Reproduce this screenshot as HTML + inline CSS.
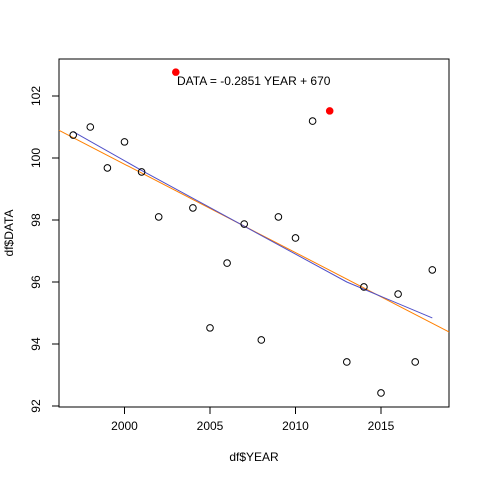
<!DOCTYPE html>
<html><head><meta charset="utf-8"><style>
body{margin:0;background:#fff;font-family:"Liberation Sans",sans-serif;}
svg text{font-family:"Liberation Sans",sans-serif;font-size:12px;fill:#000;}
</style></head><body>
<svg id="c" width="480" height="480"></svg>
<script>
const years=[1997,1998,1999,2000,2001,2002,2004,2005,2006,2007,2008,2009,2010,2011,2013,2014,2015,2016,2017,2018];
const values=[100.74,101.0,99.68,100.52,99.55,98.1,98.39,94.52,96.61,97.87,94.13,98.1,97.42,101.19,93.42,95.84,92.42,95.61,93.42,96.39];
const outlierYears=[2003,2012];
const outlierValues=[102.77,101.52];
const smoothYears=[1997,2001,2005,2009,2013,2018];
const smoothValues=[100.85,99.6,98.4,97.2,96.0,94.84];
const slope=-0.2851, intercept=670;
const xTicks=[2000,2005,2010,2015];
const yTicks=[92,94,96,98,100,102];
const NS="http://www.w3.org/2000/svg";
const svg=document.getElementById('c');
const L=59,R=449,T=59,B=407;
const X=v=>124.5+(v-2000)*17.1;
const Y=v=>406-(v-92)*31;
function mk(t,a){const e=document.createElementNS(NS,t);for(const k in a)e.setAttribute(k,a[k]);svg.appendChild(e);return e;}
let e;
e=mk('rect',{x:L,y:T,width:R-L,height:B-T,fill:'none',stroke:'#000'});


xTicks.forEach(t=>{
 e=mk('line',{x1:X(t),x2:X(t),y1:B,y2:B+7,stroke:'#000'});
 
 
 e=mk('text',{x:X(t),y:B+23,'text-anchor':'middle'});e.textContent=t;
 
 
});
yTicks.forEach(t=>{
 e=mk('line',{x1:L-7,x2:L,y1:Y(t),y2:Y(t),stroke:'#000'});
 
 
 e=mk('text',{x:L-19,y:Y(t),'text-anchor':'middle',transform:`rotate(-90 ${L-19} ${Y(t)})`});e.textContent=t;
 
 
});
e=mk('text',{x:254,y:461,'text-anchor':'middle'});e.textContent='df$YEAR';


e=mk('text',{x:13,y:233,'text-anchor':'middle',transform:'rotate(-90 13 233)'});e.textContent='df$DATA';


const x0=2000+(L-124.5)/17.1,x1=2000+(R-124.5)/17.1;
e=mk('line',{x1:L,y1:Y(slope*x0+intercept),x2:R,y2:Y(slope*x1+intercept),stroke:'#ff7f00'});


e=mk('polyline',{points:smoothYears.map((y,i)=>X(y)+','+Y(smoothValues[i])).join(' '),fill:'none',stroke:'#5050c8'});


years.forEach((y,i)=>{
 e=mk('circle',{cx:X(y),cy:Y(values[i]),r:3.3,fill:'none',stroke:'#000'});
 
 
});
outlierYears.forEach((y,i)=>{
 e=mk('circle',{cx:X(y),cy:Y(outlierValues[i]),r:3.3,fill:'#f00',stroke:'#f00'});
 
 
});
e=mk('text',{x:177,y:85});e.textContent='DATA = -0.2851 YEAR + 670';


</script>
</body></html>
